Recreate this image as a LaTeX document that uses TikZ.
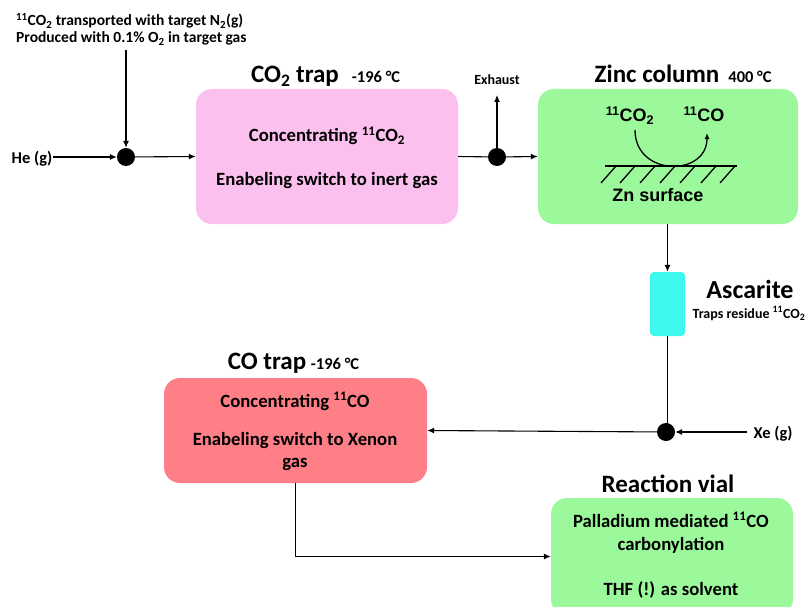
\documentclass[tikz,border=0pt]{standalone}
\usepackage{fontspec}
\setmainfont{Carlito}
\newfontfamily\arialf{Liberation Sans}
\usetikzlibrary{arrows.meta}
\definecolor{pinkbox}{HTML}{FCC0EE}
\definecolor{greenbox}{HTML}{9BF99B}
\definecolor{redbox}{HTML}{FE7F86}
\definecolor{cyanbox}{HTML}{3DF8EC}
\tikzset{
  box/.style={rounded corners=16pt, draw=none, inner sep=0pt, align=center},
  dot/.style={circle, fill=black, minimum size=18pt, inner sep=0pt},
  flow/.style={line width=1.1pt, -{Latex[length=7pt,width=6pt]}},
  plain/.style={line width=1.1pt},
  title/.style={font=\fontsize{25}{28}\selectfont\bfseries, inner sep=0pt},
  temp/.style={font=\fontsize{16.5}{19}\selectfont\bfseries, inner sep=0pt},
  body/.style={font=\fontsize{18.7}{22}\selectfont\bfseries, align=center, inner sep=0pt},
  small/.style={font=\fontsize{15.5}{20}\selectfont\bfseries, inner sep=0pt},
  tiny/.style={font=\fontsize{14}{16}\selectfont\bfseries, inner sep=0pt},
  gas/.style={font=\fontsize{16.5}{19}\selectfont\bfseries, inner sep=0pt},
}
\begin{document}
\begin{tikzpicture}[x=1pt,y=-1pt]
\useasboundingbox (0,0) rectangle (808,607);
% boxes
\node[box, fill=pinkbox, minimum width=262pt, minimum height=135pt] (co2trap) at (327,156.5) {};
\node[box, fill=greenbox, minimum width=260pt, minimum height=135pt] (zinc) at (668,156.5) {};
\node[box, fill=cyanbox, rounded corners=4pt, minimum width=35pt, minimum height=64pt] (asc) at (667.5,304) {};
\node[box, fill=redbox, minimum width=263pt, minimum height=105pt] (cotrap) at (295.5,430.5) {};
\node[box, fill=greenbox, minimum width=242pt, minimum height=117pt] (vial) at (672,556.5) {};
% titles
\node[title, anchor=base] (t1) at (295,83) {CO\textsubscript{2} trap};
\node[temp, anchor=base] (t1b) at (376,83) {-196 °C};
\node[title, anchor=base] (t2) at (657,83) {Zinc column};
\node[temp, anchor=base] (t2b) at (750,83) {400 °C};
\node[font=\fontsize{26}{29}\selectfont\bfseries, inner sep=0pt, anchor=base] (t3) at (750,298) {Ascarite};
\node[tiny, anchor=base] (t3b) at (749,318) {Traps residue \textsuperscript{11}CO\textsubscript{2}};
\node[title, anchor=base] (t4) at (267,369) {CO trap};
\node[temp, anchor=base] (t4b) at (335,369) {-196 °C};
\node[title, anchor=base] (t5) at (668,492) {Reaction vial};
% body texts
\node[body, anchor=base] (b1) at (327,142) {Concentrating \textsuperscript{11}CO\textsubscript{2}};
\node[body, anchor=base] (b2) at (327,185) {Enabeling switch to inert gas};
\node[body, anchor=base] (b3) at (295,407) {Concentrating \textsuperscript{11}CO};
\node[body, anchor=base] (b4) at (295,445) {Enabeling switch to Xenon};
\node[body, anchor=base] (b5) at (295,467) {gas};
\node[body, anchor=base] (b6) at (671,527) {Palladium mediated \textsuperscript{11}CO};
\node[body, anchor=base] (b7) at (671,550) {carbonylation};
\node[body, anchor=base] (b8) at (671,595) {THF (!) as solvent};
% top text
\node[small, anchor=base west, align=left] (top1) at (16,26) {\textsuperscript{11}CO\textsubscript{2} transported with target N\textsubscript{2}(g)};
\node[small, anchor=base west, align=left] (top2) at (16,43) {Produced with 0.1\% O\textsubscript{2} in target gas};
% zinc column internals
\node[font=\arialf\fontsize{18}{21}\selectfont\bfseries, inner sep=0pt, anchor=base] (zc1) at (630,122) {\textsuperscript{11}CO\textsubscript{2}};
\node[font=\arialf\fontsize{18}{21}\selectfont\bfseries, inner sep=0pt, anchor=base] (zc2) at (704,122) {\textsuperscript{11}CO};
\node[font=\arialf\fontsize{18}{21}\selectfont\bfseries, inner sep=0pt, anchor=base] (zn) at (658,201) {Zn surface};
\draw[line width=1.6pt] (605,166) -- (737,166);
\foreach \xx in {616,635,655,675,695,716,735} \draw[line width=1.3pt] (\xx,166) -- (\xx-15,183);
\draw[line width=1.3pt, -{Latex[length=6pt,width=5pt]}] (635,130) .. controls (635,177) and (707,177) .. (707,133);
% dots
\node[dot] (d1) at (126,157) {};
\node[dot] (d2) at (497,157) {};
\node[dot] (d3) at (666,432) {};
% labels
\node[gas, anchor=base] (he) at (32,163) {He (g)};
\node[gas, anchor=base] (xe) at (773,438) {Xe (g)};
\node[tiny, anchor=base] (exh) at (497,85) {Exhaust};
\coordinate (topin) at (126,50);
\coordinate (exhend) at (497,95);
% connectors
\draw[flow] (topin) -- (d1);
\draw[flow] (he.east |- d1) -- (d1);
\draw[flow] (d1) -- (co2trap.west);
\draw[plain] (co2trap.east) -- (d2);
\draw[flow] (d2) -- (exhend);
\draw[flow] (d2) -- (zinc.west);
\draw[flow] (zinc.south -| asc.north) -- (asc.north);
\draw[plain] (asc.south) -- (asc.south |- d3);
\draw[flow] (xe.west |- d3) ++(-6,0) -- (d3);
\draw[flow] (d3) -- (cotrap.east);
\draw[flow] (cotrap.south) |- (vial.west);
\end{tikzpicture}
\end{document}
